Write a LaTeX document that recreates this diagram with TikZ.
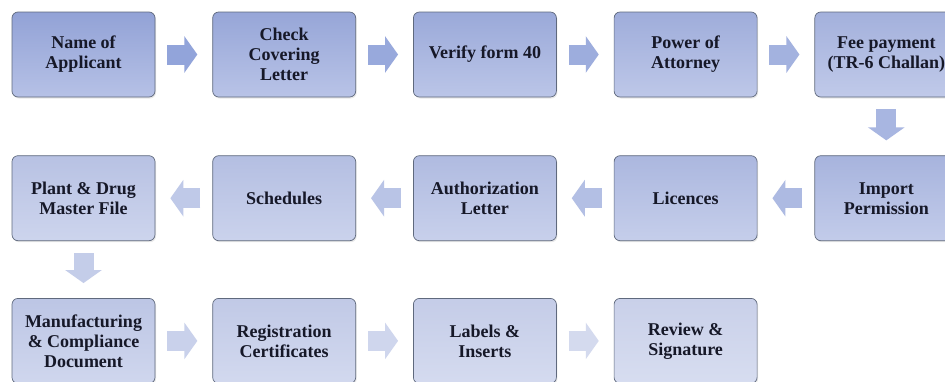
\documentclass[tikz,border=0pt]{standalone}
\usepackage{fontspec}
\setmainfont{Liberation Serif}
\usetikzlibrary{positioning}
\usetikzlibrary{arrows.meta}
\usetikzlibrary{shadows}

\definecolor{boxtopA}{RGB}{146,162,214}
\definecolor{boxbotA}{RGB}{182,193,230}
\definecolor{boxtopB}{RGB}{201,208,233}
\definecolor{boxbotB}{RGB}{215,221,240}
\definecolor{arrA}{RGB}{146,164,218}
\definecolor{arrB}{RGB}{218,223,240}
\definecolor{boxline}{RGB}{95,105,125}
\definecolor{boxtext}{RGB}{22,24,40}

\begin{document}
\begin{tikzpicture}[x=1pt, y=1pt,
		node distance = 57pt,
		stage/.style={draw=boxline, line width=0.7pt, rounded corners=6pt,
			top color=boxtopA!#1!boxtopB, bottom color=boxbotA!#1!boxbotB,
			drop shadow={opacity=0.18, shadow xshift=1pt, shadow yshift=-1.5pt},
			minimum width=143pt, minimum height=85pt, align=center,
			text=boxtext, font=\bfseries\fontsize{18}{20}\selectfont},
		flow/.style={line width=20pt, draw=arrA!#1!arrB,
			-{Triangle[length=13pt, width=36pt]},
			shorten <=12pt, shorten >=15pt}]
		\useasboundingbox (0,0) rectangle (945,-381);
		\fill [white] (0,0) rectangle (945,-381);
		\clip (0,0) rectangle (945,-381);

		% first row, left to right
		\node [stage=100] (name) at (83.5,-54.5) {Name of\\Applicant};
		\node [stage=92, right=of name] (cover) {Check\\Covering\\Letter};
		\node [stage=85, right=of cover] (form) {Verify form 40};
		\node [stage=77, right=of form] (poa) {Power of\\Attorney};
		\node [stage=69, right=of poa] (fee) {Fee payment\\(TR-6 Challan)};

		% second row, right to left
		\node [stage=62, below=58pt of fee] (import) {Import\\Permission};
		\node [stage=54, left=of import] (lic) {Licences};
		\node [stage=46, left=of lic] (auth) {Authorization\\Letter};
		\node [stage=38, left=of auth] (sched) {Schedules};
		\node [stage=31, left=of sched] (pdmf) {Plant \& Drug\\Master File};

		% third row, left to right
		\node [stage=23, below=57pt of pdmf] (mcd) {Manufacturing\\\& Compliance\\Document};
		\node [stage=15, right=of mcd] (reg) {Registration\\Certificates};
		\node [stage=8, right=of reg] (label) {Labels \&\\Inserts};
		\node [stage=0, right=of label] (review) {Review \&\\Signature};

		\draw [flow=100] (name) -- (cover);
		\draw [flow=92] (cover) -- (form);
		\draw [flow=85] (form) -- (poa);
		\draw [flow=77] (poa) -- (fee);
		\draw [flow=69] (fee) -- (import);
		\draw [flow=62] (import) -- (lic);
		\draw [flow=54] (lic) -- (auth);
		\draw [flow=46] (auth) -- (sched);
		\draw [flow=38] (sched) -- (pdmf);
		\draw [flow=31] (pdmf) -- (mcd);
		\draw [flow=23] (mcd) -- (reg);
		\draw [flow=15] (reg) -- (label);
		\draw [flow=8] (label) -- (review);
\end{tikzpicture}
\end{document}
